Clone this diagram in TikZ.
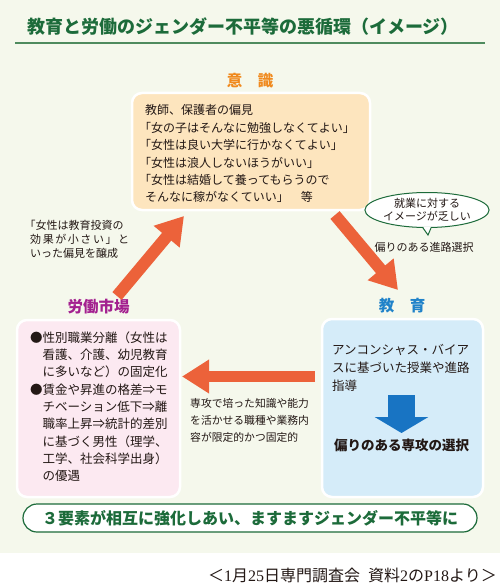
\documentclass[tikz,border=0pt]{standalone}
\usepackage{fontspec}
\setmainfont{Noto Sans CJK JP}
\newfontfamily\serifnum{Liberation Serif}
\usetikzlibrary{arrows.meta,shapes.geometric}
\definecolor{bg}{HTML}{F5F8EC}
\definecolor{tgreen}{HTML}{1C6B3A}
\definecolor{rulegreen}{HTML}{4F8B5E}
\definecolor{lorange}{HTML}{F08A1E}
\definecolor{arrowred}{HTML}{EC623A}
\definecolor{peach}{HTML}{FDE5BE}
\definecolor{lblue}{HTML}{1F82C9}
\definecolor{skyb}{HTML}{D5ECF9}
\definecolor{darrowblue}{HTML}{1874C3}
\definecolor{lpurple}{HTML}{A3208F}
\definecolor{pinkb}{HTML}{FCE9F1}
\definecolor{txt}{HTML}{231815}
\begin{document}
\begin{tikzpicture}[x=1pt,y=-1pt,
  panel/.style={draw=white, line width=2.5pt, rounded corners=10pt, inner sep=0pt},
  fatarrow/.style={draw=arrowred, line width=12pt, -{Triangle[length=27pt,width=32pt]}},
  bodytext/.style={anchor=north west, inner sep=0pt, align=left, text=txt},
  heading/.style={inner sep=0pt, font=\fontsize{15.5}{18}\selectfont\bfseries},
  single/.style={inner sep=0pt, text=txt}
]
\useasboundingbox (0,0) rectangle (500,588);
\fill[white] (0,0) rectangle (500,588);
\fill[bg] (0,0) rectangle (500,553);

% title
\node[inner sep=0pt, text=tgreen, font=\fontsize{18}{20}\selectfont\bfseries] (title) at (243,27) {教育と労働のジェンダー不平等の悪循環（イメージ）};
\coordinate (rl) at (15,43);
\coordinate (rr) at (485,43);
\draw[rulegreen, line width=1.2pt] (rl) -- (rr);

% consciousness
\node[heading, text=lorange] (ishikiL) at (250,81) {意　識};
\node[panel, fill=peach, minimum width=238pt, minimum height=117pt] (ishiki) at (251,151.5) {};
\node[bodytext, font=\fontsize{12}{17.4}\selectfont] (ishikiT) at (145,104.6) {教師、保護者の偏見\\
\kern-0.5em「女の子はそんなに勉強しなくてよい」\\
\kern-0.5em「女性は良い大学に行かなくてよい」\\
\kern-0.5em「女性は浪人しないほうがいい」\\
\kern-0.5em「女性は結婚して養ってもらうので\\
そんなに稼がなくていい」　等};

% education
\node[heading, text=lblue] (kyoikuL) at (402,306) {教　育};
\node[panel, fill=skyb, minimum width=161pt, minimum height=178pt] (kyoiku) at (402.5,408) {};
\node[bodytext, font=\fontsize{12.5}{18}\selectfont] (kyoikuT) at (332,344.4) {アンコンシャス・バイア\\
スに基づいた授業や進路\\
指導};
\coordinate (bs) at (401.5,395);
\coordinate (be) at (401.5,433);
\draw[draw=darrowblue, line width=27pt, -{Triangle[length=16pt,width=53pt]}] (bs) -- (be);
\node[single, font=\fontsize{13.5}{16}\selectfont\bfseries] (senko) at (401.5,445) {偏りのある専攻の選択};

% labour market
\node[heading, text=lpurple] (rodoL) at (98.5,307) {労働市場};
\node[panel, fill=pinkb, minimum width=163pt, minimum height=177pt] (rodo) at (98.5,408.5) {};
\node[bodytext, font=\fontsize{12.5}{17.3}\selectfont] (rodoT) at (30,331.4) {●性別職業分離（女性は\\
　看護、介護、幼児教育\\
　に多いなど）の固定化\\
●賃金や昇進の格差⇒モ\\
　チベーション低下⇒離\\
　職率上昇⇒統計的差別\\
　に基づく男性（理学、\\
　工学、社会科学出身）\\
　の優遇};

% arrows
\coordinate (a1s) at (117,296);
\coordinate (a1e) at (184,216);
\draw[fatarrow] (a1s) -- (a1e);
\coordinate (a2s) at (335,215);
\coordinate (a2e) at (398,290);
\draw[fatarrow] (a2s) -- (a2e);
\coordinate (a3s) at (315,376.5);
\coordinate (a3e) at (182,376.5);
\draw[fatarrow, line width=11.5pt] (a3s) -- (a3e);

% side labels
\node[bodytext, font=\fontsize{11}{14}\selectfont] (leftT) at (30,220) {\kern-0.5em「女性は教育投資の\\
\makebox[99pt][s]{効\hfill 果\hfill が\hfill 小\hfill さ\hfill い\hfill 」\hfill と}\\
いった偏見を醸成};
\node[bodytext, font=\fontsize{10.8}{17}\selectfont] (midT) at (190,398) {専攻で培った知識や能力\\
を活かせる職種や業務内\\
容が限定的かつ固定的};

% callout
\node[ellipse, draw=tgreen, fill=white, line width=1pt, minimum width=110pt, minimum height=35pt, inner sep=0pt, align=center, text=txt, font=\fontsize{11}{13}\selectfont] (bub) at (427,210) {就業に対する\\イメージが乏しい};
\coordinate (tl) at ([xshift=-4pt]bub.south);
\coordinate (tr) at ([xshift=4pt]bub.south);
\coordinate (tt) at ([xshift=1pt,yshift=-7pt]bub.south);
\fill[white] ([yshift=1.5pt]tl) -- (tt) -- ([yshift=1.5pt]tr) -- cycle;
\draw[tgreen, line width=1pt] (tl) -- (tt) -- (tr);
\node[single, font=\fontsize{11}{13}\selectfont] (shinro) at (424,247) {偏りのある進路選択};

% banner
\node[draw=tgreen, fill=white, line width=1.2pt, rounded corners=14pt, minimum width=454pt, minimum height=28pt, inner sep=0pt, text=tgreen, font=\fontsize{16}{18}\selectfont\bfseries] (banner) at (250,518) {３要素が相互に強化しあい、ますますジェンダー不平等に};

% source
\node[single, anchor=east, font=\fontsize{16}{18}\selectfont] (src) at (497,575) {＜{\serifnum 1}月{\serifnum 25}日専門調査会\kern0.5em 資料{\serifnum 2}の{\serifnum P18}より＞};
\end{tikzpicture}
\end{document}
